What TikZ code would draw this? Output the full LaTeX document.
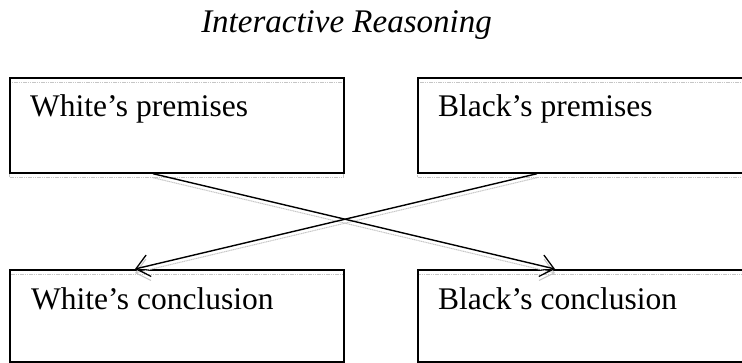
\documentclass[tikz,border=0pt]{standalone}
\usepackage{fontspec}
\setmainfont{Liberation Serif}
\usetikzlibrary{arrows.meta,calc}
\begin{document}
\begin{tikzpicture}[x=1pt,y=1pt,
  box/.style={draw=black,line width=1.7pt,rectangle,minimum width=334pt,minimum height=95pt,inner sep=0pt,anchor=north west},
  shadowbox/.style={draw=gray!45,line width=1pt,dash pattern=on 1.2pt off 0.6pt,rectangle,minimum width=334pt,minimum height=95pt,inner sep=0pt,anchor=north west},
  lbl/.style={anchor=base west,inner sep=0pt,font=\fontsize{31.5}{36}\selectfont},
  arr/.style={draw=black,line width=1.4pt,-{Straight Barb[length=13pt,width=22pt,line width=1.3pt]}},
  sarr/.style={draw=gray!45,line width=1pt,dash pattern=on 1.2pt off 0.6pt,-{Straight Barb[length=13pt,width=22pt,line width=1pt]}}
]
\useasboundingbox (0,0) rectangle (742,363);
\fill[white] (0,0) rectangle (742,363);
% title
\node[anchor=base,inner sep=0pt,font=\fontsize{33}{38}\selectfont\itshape] (title) at (346.5,330) {Interactive Reasoning};
% shadows
\node[shadowbox] (wps) at (9,281) {};
\node[shadowbox,minimum width=360pt] (bps) at (417,281) {};
\node[shadowbox,minimum height=92pt] (wcs) at (9,89) {};
\node[shadowbox,minimum width=360pt,minimum height=92pt] (bcs) at (417,89) {};
% boxes
\node[box] (wp) at (9,286) {};
\node[box,minimum width=360pt] (bp) at (417,286) {};
\node[box,minimum height=92pt] (wc) at (9,94) {};
\node[box,minimum width=360pt,minimum height=92pt] (bc) at (417,94) {};
% labels
\node[lbl] (wpt) at ($(wp.north west)+(21,-40)$) {White’s premises};
\node[lbl] (bpt) at ($(bp.north west)+(21,-40)$) {Black’s premises};
\node[lbl] (wct) at ($(wc.north west)+(22,-41)$) {White’s conclusion};
\node[lbl] (bct) at ($(bc.north west)+(21,-41)$) {Black’s conclusion};
% connector endpoints
\coordinate (a1s) at ($(wp.south west)+(144,0)$);
\coordinate (a1e) at ($(bc.north west)+(138,0)$);
\coordinate (a2s) at ($(bp.south west)+(120,0)$);
\coordinate (a2e) at ($(wc.north west)+(126,0)$);
% arrow shadows
\draw[sarr] ($(a1s)+(0,-4)$) -- ($(a1e)+(0,-4)$);
\draw[sarr] ($(a2s)+(0,-4)$) -- ($(a2e)+(0,-4)$);
% arrows
\draw[arr] (a1s) -- (a1e);
\draw[arr] (a2s) -- (a2e);
\end{tikzpicture}
\end{document}
